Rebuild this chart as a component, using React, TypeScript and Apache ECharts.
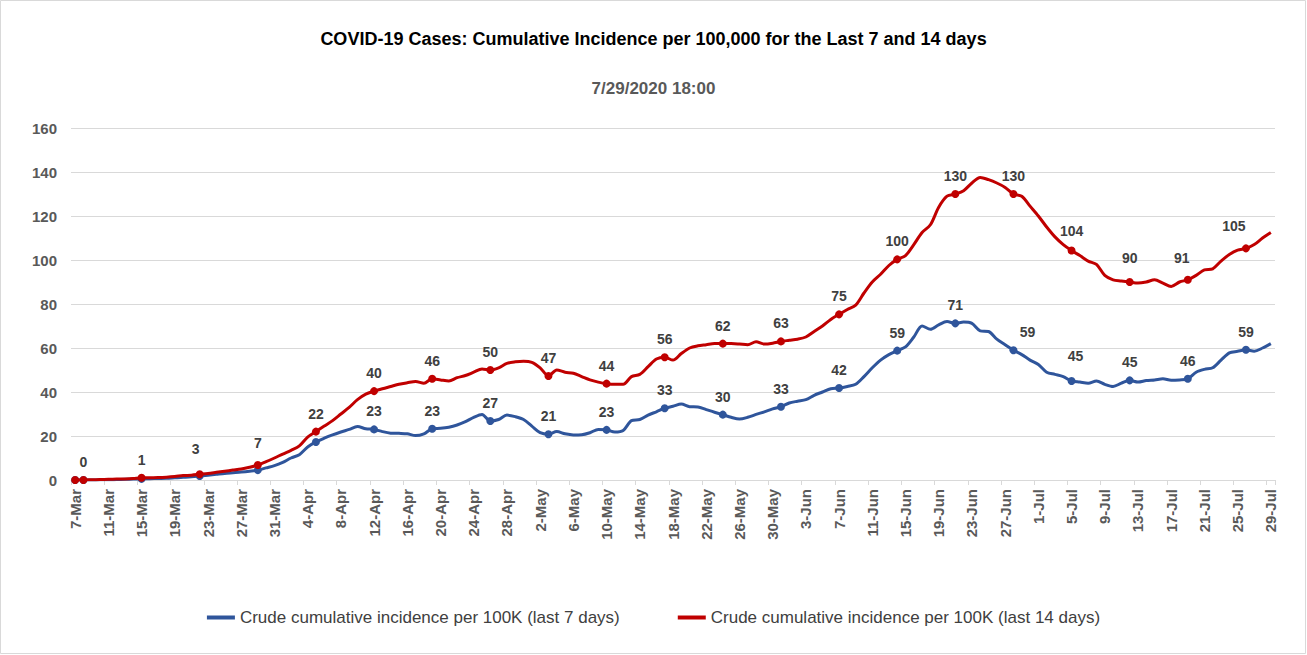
import React, { useEffect, useRef } from "react";
import * as echarts from "echarts";

const MONTHS: [string, number, number][] = [
  ["Mar", 7, 31],
  ["Apr", 1, 30],
  ["May", 1, 31],
  ["Jun", 1, 30],
  ["Jul", 1, 29],
];
const categories: string[] = [];
MONTHS.forEach(([m, a, b]) => {
  for (let d = a; d <= b; d++) categories.push(`${d}-${m}`);
});

const yTicks = [0, 20, 40, 60, 80, 100, 120, 140, 160];

// Crude cumulative incidence per 100K (last 7 days)
const last7: number[] = [
  0, 0, 0, 0.1, 0.1, 0.2, 0.3, 0.4, 0.5, 0.6, 0.7, 0.8, 1.0, 1.2, 1.5,
  1.8,
  2.2, 2.6, 3, 3.3, 3.6, 4,
  4.5,
  5.5, 6.5, 8, 10, 11.5, 15, 17.3,
  19, 20.5, 21.8, 23, 24.3, 23.3, 23,
  22, 21.3, 21.2, 21, 20.2, 21, 23.3,
  23.5, 24, 25, 26.5, 28.5, 29.8, 26.8,
  27.5, 29.5, 28.8, 27.5, 24.5, 21.5, 20.8,
  22, 21, 20.5, 20.6, 21.5, 23, 22.8,
  21.8, 22.5, 27, 27.5, 29.5, 31, 32.6,
  33.5, 34.5, 33.3, 33.2, 32, 30.8, 29.7,
  28.5, 27.7, 28.5, 29.8, 31, 32.3, 33.3,
  35, 35.8, 36.5, 38.5, 40, 41.5, 41.8,
  42.5, 43.5, 47, 51, 54.5, 57, 58.8,
  60.5, 65, 70, 68.5, 70.5, 72, 71.2,
  71.8, 71.2, 67.8, 67.5, 64, 61.5, 59,
  57, 54.5, 52.5, 49, 48, 47, 45,
  44.5, 44, 45, 43.5, 42.5, 44, 45.3,
  44.5, 45.2, 45.5, 46, 45.3, 45.5, 46,
  49, 50.3, 51, 54.5, 57.8, 58.5, 59.2,
  58.5, 60, 62,
];

// Crude cumulative incidence per 100K (last 14 days)
const last14: number[] = [
  0, 0, 0.1, 0.2, 0.3, 0.4, 0.5, 0.7,
  1,
  1.0, 1.1, 1.3, 1.6, 2.0, 2.2,
  2.6,
  3, 3.5, 4, 4.5, 5, 5.8,
  6.8,
  8.3, 10, 11.8, 13.5, 15.5, 19.5, 22,
  24.5, 27, 30, 33, 36.5, 39, 40.4,
  41.5, 42.5, 43.5, 44.2, 44.8, 44, 46,
  45.5, 45, 46.5, 47.5, 49, 50.5, 50,
  51, 53, 53.7, 54, 53.5, 51, 47.3,
  50, 49, 48.5, 47, 45.5, 44.5, 43.8,
  43.5, 43.5, 47, 48, 51.5, 55, 55.8,
  54.5, 57.5, 60, 61, 61.5, 62, 62,
  62, 61.8, 61.5, 62.8, 61.8, 62.2, 63,
  63.5, 64, 65, 67.5, 70, 73, 75.3,
  77.5, 79.5, 85, 90, 93.5, 97.5, 100.3,
  102, 107, 112.5, 116, 124, 129, 130,
  131.5, 135, 137.5, 136.5, 135, 133, 130,
  129, 124.5, 120, 115, 110.5, 107, 104.3,
  102, 99.5, 98, 93, 91, 90.5, 90,
  89.5, 90, 91, 89.5, 88, 90, 91,
  93, 95.5, 96, 99.5, 102.5, 104.5, 105.3,
  107, 110, 112.5,
];

const seriesNames = [
  "Crude cumulative incidence per 100K (last 7 days)",
  "Crude cumulative incidence per 100K (last 14 days)",
];

const BLUE = "#2F559B";
const RED = "#C00000";

const isMarked = (i: number) => i === 0 || (i - 1) % 7 === 0;

function buildData(
  vals: number[],
  labelFrom: number,
  offsets: Record<number, [number, number]>
) {
  return vals.map((v, i) => {
    if (!isMarked(i)) return v;
    const showLabel = (i - 1) % 7 === 0 && i >= labelFrom;
    return {
      value: v,
      label: { show: showLabel, offset: offsets[i] || [0, 0] },
    };
  });
}

export default function App() {
  const ref = useRef<HTMLDivElement>(null);
  useEffect(() => {
    document.body.style.margin = "0";
    if (!ref.current) return;
    const chart = echarts.init(ref.current, undefined, { renderer: "svg" });
    const font = "'Liberation Sans', Arial, sans-serif";
    const labelStyle = {
      position: "top" as const,
      distance: 7,
      color: "#404040",
      fontWeight: "bold" as const,
      fontSize: 14,
      fontFamily: font,
      formatter: (p: any) => String(Math.round(p.value)),
    };
    const makeSeries = (name: string, vals: number[], color: string, labelFrom: number, offsets: Record<number, [number, number]>, z: number) => ({
      name,
      type: "line",
      data: buildData(vals, labelFrom, offsets),
      smooth: 0.3,
      symbol: "circle",
      showAllSymbol: true,
      symbolSize: (_v: any, p: any) => (isMarked(p.dataIndex) ? 8 : 0),
      lineStyle: { color, width: 3 },
      itemStyle: { color },
      label: { ...labelStyle, show: false },
      emphasis: { disabled: true },
      z,
    });
    chart.setOption({
      animation: false,
      textStyle: { fontFamily: font },
      title: [
        {
          text: "COVID-19 Cases: Cumulative Incidence per 100,000 for the Last 7 and 14 days",
          left: "center",
          top: 25,
          textStyle: { fontSize: 18, fontWeight: "bold", color: "#000", fontFamily: font },
        },
        {
          text: "7/29/2020 18:00",
          left: "center",
          top: 75,
          textStyle: { fontSize: 17, fontWeight: "bold", color: "#595959", fontFamily: font },
        },
      ],
      legend: {
        data: seriesNames,
        left: "center",
        top: 604,
        itemWidth: 28,
        itemHeight: 4,
        itemGap: 58,
        icon: "rect",
        textStyle: { fontSize: 17, color: "#404040", fontFamily: font },
      },
      grid: { left: 71, right: 32, top: 128, bottom: 175, containLabel: false },
      xAxis: {
        type: "category",
        data: categories,
        boundaryGap: true,
        axisLine: { lineStyle: { color: "#d9d9d9", width: 1 } },
        axisTick: { show: true, interval: 3, length: 5, lineStyle: { color: "#d9d9d9" } },
        axisLabel: {
          interval: 3,
          rotate: 90,
          margin: 9,
          fontSize: 15,
          fontWeight: "bold",
          color: "#595959",
          fontFamily: font,
        },
      },
      yAxis: {
        type: "value",
        min: 0,
        max: yTicks[yTicks.length - 1],
        interval: 20,
        axisLine: { show: false },
        axisTick: { show: false },
        axisLabel: { fontSize: 15, fontWeight: "bold", color: "#595959", margin: 14, fontFamily: font },
        splitLine: { lineStyle: { color: "#d9d9d9", width: 1 } },
      },
      graphic: [
        {
          type: "rect",
          shape: { x: 0.5, y: 0.5, width: 1305, height: 653 },
          style: { fill: "none", stroke: "#d9d9d9", lineWidth: 1 },
          silent: true,
        },
      ],
      series: [
        makeSeries(seriesNames[0], last7, BLUE, 36, {
          113: [14, 0],
          120: [4, -7],
        }, 2),
        makeSeries(seriesNames[1], last14, RED, 1, {
          15: [-4, -7],
          22: [0, -4],
          120: [0, -2],
          127: [0, -6],
          134: [-6, -4],
          141: [-12, -4],
        }, 3),
      ],
    });
    return () => chart.dispose();
  }, []);
  return <div ref={ref} style={{ width: 1307, height: 655 }} />;
}
